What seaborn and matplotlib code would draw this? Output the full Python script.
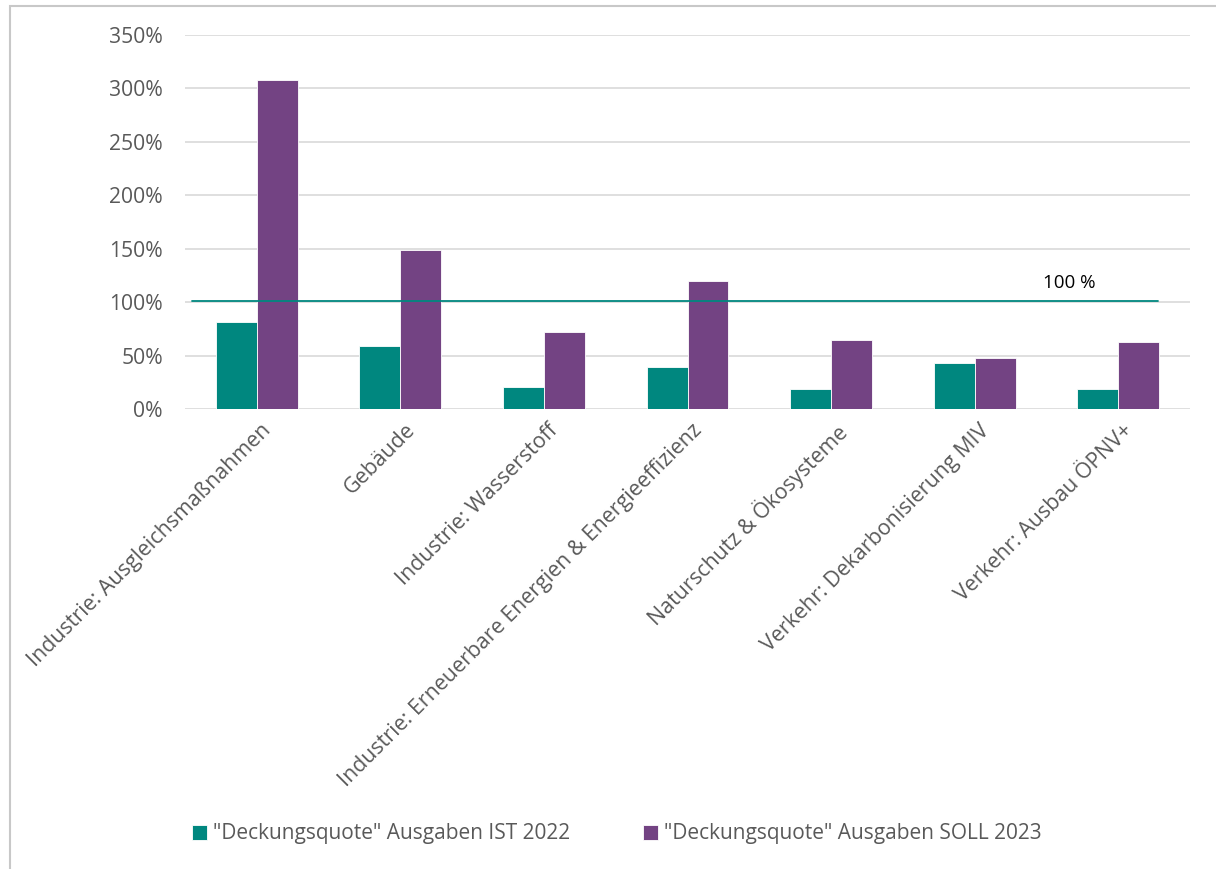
import matplotlib
matplotlib.use("Agg")
import matplotlib.pyplot as plt
import seaborn as sns
import pandas as pd
from matplotlib.patches import Rectangle
from matplotlib.ticker import FuncFormatter

categories = [
    "Industrie: Ausgleichsmaßnahmen",
    "Gebäude",
    "Industrie: Wasserstoff",
    "Industrie: Erneuerbare Energien & Energieeffizienz",
    "Naturschutz & Ökosysteme",
    "Verkehr: Dekarbonisierung MIV",
    "Verkehr: Ausbau ÖPNV+",
]
ist_2022 = [81, 59, 21, 39, 19, 43, 19]
soll_2023 = [308, 149, 72, 120, 65, 48, 63]
series_names = ['"Deckungsquote" Ausgaben IST 2022', '"Deckungsquote" Ausgaben SOLL 2023']
reference_value = 100
reference_label = "100 %"
colors = ["#00877F", "#734383"]

df = pd.DataFrame({
    "Kategorie": categories * 2,
    "Serie": [series_names[0]] * len(categories) + [series_names[1]] * len(categories),
    "Wert": ist_2022 + soll_2023,
})

sns.set_theme(style="white")
plt.rcParams["font.family"] = ["Open Sans", "DejaVu Sans"]

fig = plt.figure(figsize=(12.16, 8.69), dpi=100)
ax = fig.add_axes([185 / 1216, 1 - 409 / 869, (1190 - 185) / 1216, (409 - 35) / 869])

sns.barplot(data=df, x="Kategorie", y="Wert", hue="Serie", palette=colors,
            width=0.57, ax=ax, linewidth=0.6, edgecolor="white", saturation=1)

ax.set_ylim(0, 350)
ax.set_xlim(-0.5, len(categories) - 0.5)
ax.set_yticks(range(0, 351, 50))
ax.yaxis.set_major_formatter(FuncFormatter(lambda v, p: f"{int(v)}%"))
ax.grid(axis="y", color="#d9d9d9", linewidth=1.2)
ax.set_axisbelow(True)
for s in ["top", "right", "left", "bottom"]:
    ax.spines[s].set_visible(False)
ax.tick_params(axis="both", length=0, colors="#595959")
ax.tick_params(axis="y", pad=16, labelsize=15.2)
ax.set_xlabel("")
ax.set_ylabel("")
ax.set_xticks(range(len(categories)))
ax.set_xticklabels(categories, rotation=45, ha="right", rotation_mode="anchor", color="#595959", fontsize=15.4)
for lbl in ax.get_xticklabels():
    lbl.set_transform(lbl.get_transform() + matplotlib.transforms.ScaledTranslation(0.04, -0.06, fig.dpi_scale_trans))

ax.axhline(reference_value + 0.8, xmin=7 / 1005, xmax=973 / 1005, color="#00877F", linewidth=1.3, zorder=3)
ax.text(0.88, 118, reference_label, transform=ax.get_yaxis_transform(), ha="center", va="center",
        fontsize=13.5, color="black")

leg = ax.legend(loc="center", bbox_to_anchor=(617 / 1216, 1 - 834 / 869), bbox_transform=fig.transFigure,
                ncol=2, frameon=False, fontsize=15, handlelength=0.7, handleheight=0.7,
                handletextpad=0.3, columnspacing=3.5)
for t in leg.get_texts():
    t.set_color("#595959")

fig.patches.append(Rectangle((10 / 1216, -0.1), 1.2, 1 - 6 / 869 + 0.1, transform=fig.transFigure,
                             fill=False, edgecolor="#c8c8c8", linewidth=1.5, zorder=0))

fig.savefig("out.png", dpi=100, facecolor="white")
